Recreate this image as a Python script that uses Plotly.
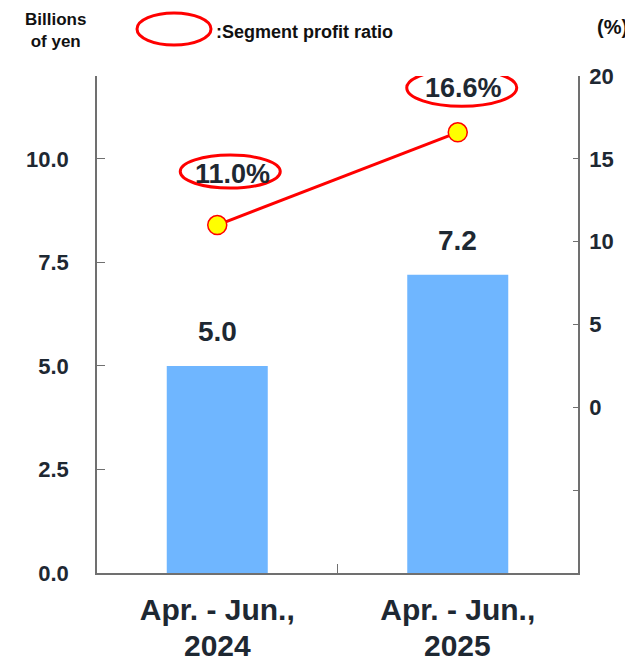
import plotly.graph_objects as go

periods = ["Apr. - Jun.,", "Apr. - Jun.,"]
years = ["2024", "2025"]
categories = [p + "<br>" + y for p, y in zip(periods, years)]
profit = [5.0, 7.2]
ratio = [11.0, 16.6]
profit_labels = ["5.0", "7.2"]
ratio_labels = ["11.0%", "16.6%"]
left_ticks = [0, 2.5, 5, 7.5, 10]
right_ticks = [-10, -5, 0, 5, 10, 15, 20]
right_ticktext = ["", "", "0", "5", "10", "15", "20"]

FONT = "Liberation Sans, Arial, sans-serif"
TXT = "#1e2832"
AX = "#707070"

def f(size, color=TXT):
    return dict(size=size, color=color, family=FONT, weight="bold")

fig = go.Figure()
fig.add_trace(go.Bar(x=categories, y=profit, marker=dict(color="#6fb6ff", line=dict(width=0)),
                     width=0.42, hoverinfo="skip"))
fig.add_trace(go.Scatter(x=categories, y=ratio, yaxis="y2", mode="lines+markers",
                         line=dict(color="#ff0000", width=3),
                         marker=dict(size=19, color="#ffff00", line=dict(color="#ff0000", width=1.5)),
                         hoverinfo="skip"))

annotations = []
shapes = []
for c, v, t in zip(categories, profit, profit_labels):
    annotations.append(dict(x=c, y=v, xref="x", yref="y", text=t, showarrow=False,
                            yshift=34, font=f(28)))

# offsets for ratio labels and ellipses (pixels)
txt_off = [(15, 51), (6, 44)]
ell_off = [(-37, 63, 37, 70), (-51, 59, 26, 63)]
for c, v, t, (dx, dy), (ex0, ex1, ey0, ey1) in zip(categories, ratio, ratio_labels, txt_off, ell_off):
    annotations.append(dict(x=c, y=v, xref="x", yref="y2", text=t, showarrow=False,
                            xshift=dx, yshift=dy, font=f(27)))
    shapes.append(dict(type="circle", xref="x", yref="y2", xsizemode="pixel", ysizemode="pixel",
                       xanchor=c, yanchor=v, x0=ex0, x1=ex1, y0=ey0, y1=ey1,
                       line=dict(color="#ff0000", width=3)))

# The page body adds an 8px margin; size the figure so it fills the window.
OFF = 8
W, H = 633 - OFF, 657 - OFF
L, R, T, B = 97 - OFF, 55, 76 - OFF, 84
pw, ph = W - L - R, H - T - B
def px(x): return (x - OFF - L) / pw
def py(y): return (H - B - (y - OFF)) / ph

# second line of the category labels
for c, yr in zip(categories, years):
    annotations.append(dict(x=c, xref="x", yref="paper", y=py(645), yanchor="middle",
                            text=yr, showarrow=False, font=f(30)))

shapes.append(dict(type="circle", xref="paper", yref="paper",
                   x0=px(137), x1=px(211), y0=py(45), y1=py(13),
                   line=dict(color="#ff0000", width=3)))
annotations.append(dict(xref="paper", yref="paper", x=px(214), y=py(32), xanchor="left", yanchor="middle",
                        text=":Segment profit ratio", showarrow=False, font=f(18, "#111111")))
annotations.append(dict(xref="paper", yref="paper", x=px(55), y=py(31), xanchor="center", yanchor="middle",
                        text="Billions<br>of yen", showarrow=False, font=f(17, "#111111")))
annotations.append(dict(xref="paper", yref="paper", x=px(612), y=py(27), xanchor="center", yanchor="middle",
                        text="(%)", showarrow=False, font=f(20, "#111111")))

fig.update_layout(
    width=W, height=H,
    margin=dict(l=L, r=R, t=T, b=B, pad=0),
    paper_bgcolor="white", plot_bgcolor="white",
    showlegend=False,
    font=dict(family=FONT, color=TXT),
    xaxis=dict(type="category", range=[-0.5, 1.5], showline=True, linecolor=AX, linewidth=1.5,
               tickvals=categories, ticktext=periods,
               ticks="inside", tickson="boundaries", ticklen=9, tickcolor=AX, tickwidth=1,
               tickfont=f(30), ticklabelstandoff=9, automargin=False,
               showgrid=False, zeroline=False),
    yaxis=dict(range=[0, 12], tickvals=left_ticks, tickformat=".1f", showline=True, linecolor=AX,
               linewidth=1.5, ticks="inside", ticklen=8, tickcolor=AX, tickwidth=1,
               tickfont=f(22), ticklabelstandoff=22, automargin=False,
               showgrid=False, zeroline=False),
    yaxis2=dict(range=[-10, 20], overlaying="y", side="right", tickvals=right_ticks,
                ticktext=right_ticktext, showline=True, linecolor=AX, linewidth=1.5,
                ticks="inside", ticklen=5, tickcolor=AX, tickwidth=1,
                tickfont=f(22), ticklabelstandoff=5, automargin=False,
                showgrid=False, zeroline=False),
    annotations=annotations,
    shapes=shapes,
)

fig.write_html("out.html")
